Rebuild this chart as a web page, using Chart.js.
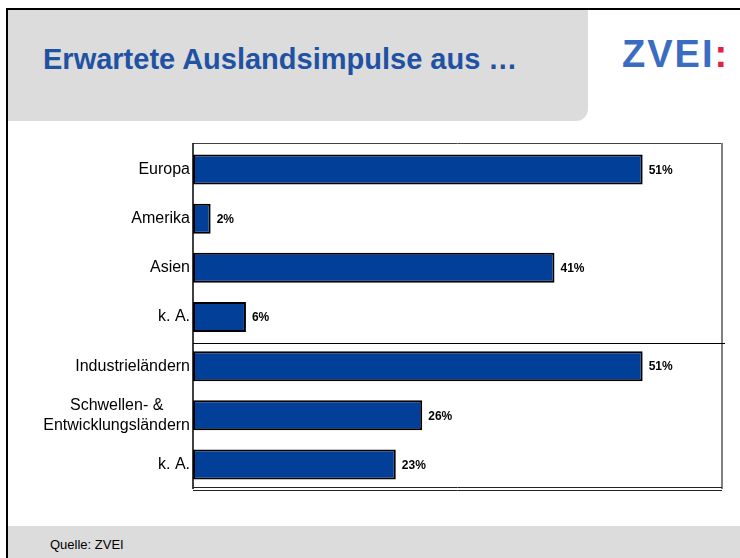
<!DOCTYPE html>
<html>
<head>
<meta charset="utf-8">
<script src="https://cdn.jsdelivr.net/npm/chart.js@4/dist/chart.umd.min.js"></script>
<style>
  body { margin: 0; background: #fff; font-family: Arial, "Liberation Sans", sans-serif; }
  #page { position: relative; width: 740px; height: 558px; overflow: hidden; }
  #frame { position: absolute; left: 6px; top: 8px; width: 740px; height: 560px; border-left: 2px solid #000; border-top: 2px solid #000; }
  #header { position: absolute; left: 8px; top: 10px; width: 580px; height: 111px; background: #dcdcdc; border-bottom-right-radius: 12px; }
  #title { position: absolute; left: 43px; top: 43px; font-size: 29px; font-weight: bold; color: #1f52a3; white-space: nowrap; }
  #logo { position: absolute; left: 622px; top: 33px; font-size: 38px; font-weight: bold; color: #3a6dc2; letter-spacing: 2px; }
  #logo span { color: #e8203f; }
  #footer { position: absolute; left: 8px; top: 526px; width: 740px; height: 32px; background: #dcdcdc; }
  #source { position: absolute; left: 50px; top: 537px; font-size: 13px; color: #000; }
  #chart { position: absolute; left: 0; top: 0; }
</style>
</head>
<body>
<div id="page">
  <div id="frame"></div>
  <div id="header"></div>
  <div id="title">Erwartete Auslandsimpulse aus …</div>
  <div id="logo">ZVEI<span>:</span></div>
  <div id="footer"></div>
  <div id="source">Quelle: ZVEI</div>
  <canvas id="chart" width="740" height="558"></canvas>
</div>
<script>
// Chart data
const categories = [
    'Europa',
    'Amerika',
    'Asien',
    'k. A.',
    'Industrieländern',
    ['Schwellen- &      ', 'Entwicklungsländern'],
    'k. A.'
];
const values = [51, 2, 41, 6, 51, 26, 23];
const axisMax = 60;

// frame lines around the plot + separator between the two groups
const framePlugin = {
    id: 'frame',
    afterDatasetsDraw(chart) {
        const ctx = chart.ctx;
        const a = chart.chartArea;
        const y = chart.scales.y;
        ctx.save();
        // top
        ctx.strokeStyle = '#444';
        ctx.lineWidth = 1;
        ctx.beginPath();
        ctx.moveTo(a.left, a.top - 1.5);
        ctx.lineTo(a.right, a.top - 1.5);
        ctx.stroke();
        // left axis
        ctx.strokeStyle = '#000';
        ctx.lineWidth = 1.5;
        ctx.beginPath();
        ctx.moveTo(a.left, a.top - 2);
        ctx.lineTo(a.left, a.bottom);
        ctx.stroke();
        // right
        ctx.strokeStyle = '#808080';
        ctx.lineWidth = 2;
        ctx.beginPath();
        ctx.moveTo(a.right, a.top - 2);
        ctx.lineTo(a.right, a.bottom);
        ctx.stroke();
        // bottom double line
        ctx.strokeStyle = '#222';
        ctx.lineWidth = 1;
        ctx.beginPath();
        ctx.moveTo(a.left, a.bottom - 1.5);
        ctx.lineTo(a.right, a.bottom - 1.5);
        ctx.moveTo(a.left, a.bottom + 1.5);
        ctx.lineTo(a.right, a.bottom + 1.5);
        ctx.stroke();
        // separator
        const sy = Math.round(y.getPixelForValue(3.5)) + 1.5;
        ctx.strokeStyle = '#000';
        ctx.beginPath();
        ctx.moveTo(a.left, sy);
        ctx.lineTo(a.right + 3, sy);
        ctx.stroke();
        ctx.restore();
    }
};

// value labels to the right of the bars
const labelPlugin = {
    id: 'valueLabels',
    afterDatasetsDraw(chart) {
        const ctx = chart.ctx;
        const meta = chart.getDatasetMeta(0);
        ctx.save();
        ctx.font = 'bold 12px Arial, "Liberation Sans", sans-serif';
        ctx.fillStyle = '#000';
        ctx.textAlign = 'left';
        ctx.textBaseline = 'middle';
        meta.data.forEach((bar, i) => {
            ctx.fillText(values[i] + '%', bar.x + 6, bar.y + 1);
        });
        ctx.restore();
    }
};

new Chart(document.getElementById('chart'), {
    type: 'bar',
    data: {
        labels: categories,
        datasets: [{
            data: values,
            backgroundColor: '#023f99',
            borderColor: '#000',
            borderWidth: 2,
            borderSkipped: false,
            barPercentage: 0.61,
            categoryPercentage: 1
        }]
    },
    options: {
        indexAxis: 'y',
        responsive: false,
        animation: false,
        layout: { padding: { top: 145, bottom: 69, left: 0, right: 18 } },
        plugins: {
            legend: { display: false },
            tooltip: { enabled: false }
        },
        scales: {
            x: { display: false, min: 0, max: axisMax },
            y: {
                afterFit(scale) { scale.width = 193; },
                grid: { display: false, drawTicks: false },
                border: { display: false },
                ticks: {
                    color: '#000',
                    padding: 3,
                    font: { family: 'Arial, "Liberation Sans", sans-serif', size: 16, lineHeight: 1.25 }
                }
            }
        }
    },
    plugins: [framePlugin, labelPlugin]
});
</script>
</body>
</html>
